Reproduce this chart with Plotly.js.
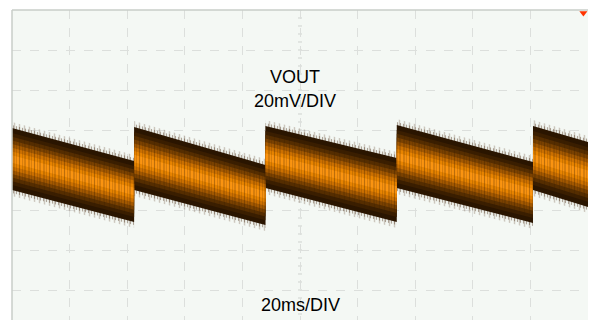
<!DOCTYPE html>
<html>
<head>
<meta charset="utf-8">
<script src="https://cdn.plot.ly/plotly-3.0.1.min.js"></script>
<style>html,body{margin:0;padding:0;background:#fff;}#chart{width:589px;height:320px;}</style>
</head>
<body>
<div id="chart"></div>
<script>
// Time (ms) at segment boundaries of the sawtooth ripple (repeated times = vertical jumps)
var timeMs   = [0, 42.4, 42.4, 88.0, 88.0, 133.6, 133.6, 180.9, 180.9, 200];
// Upper and lower edges of the noisy VOUT band (mV, AC coupled)
var topMv    = [21, 4.5, 21.5, 2.5, 22, 6, 22.5, 4, 22, 14];
var bottomMv = [-10, -26, -10, -27.5, -9, -26, -9, -26.5, -10, -18.5];
// Trigger marker
var trigTime = [198.4];
var trigLevel = [78.5];
var labelVout = "VOUT";
var labelVdiv = "20mV/DIV";
var labelTdiv = "20ms/DIV";

function band(fLo, pad, color, pattern) {
  var up = [], lo = [];
  for (var i = 0; i < timeMs.length; i++) {
    var span = topMv[i] - bottomMv[i];
    up.push(topMv[i] - fLo * span + pad);
    lo.push(bottomMv[i] + fLo * span - pad);
  }
  var xs = timeMs.concat(timeMs.slice().reverse());
  var ys = up.concat(lo.slice().reverse());
  var tr = {x: xs, y: ys, type: 'scatter', mode: 'lines', fill: 'toself',
          fillcolor: color, line: {width: 0}, hoverinfo: 'skip', showlegend: false};
  if (pattern) tr.fillpattern = pattern;
  return tr;
}

var traces = [
  band(0, 3.0, 'rgba(0,0,0,0)', {shape: '|', size: 5, solidity: 0.3, fgcolor: 'rgba(110,85,65,0.6)', bgcolor: 'rgba(0,0,0,0)', fillmode: 'overlay'}),
  band(0, 1.5, 'rgba(0,0,0,0)', {shape: '|', size: 3, solidity: 0.4, fgcolor: 'rgba(70,40,15,0.8)', bgcolor: 'rgba(0,0,0,0)', fillmode: 'overlay'}),
  band(0, 0, '#2a1500'),
  band(0.08, 0, '#3a1e00'),
  band(0.14, 0, '#552d00'),
  band(0.20, 0, '#7a4100'),
  band(0.26, 0, '#a35800'),
  band(0.32, 0, '#cc7000'),
  band(0.38, 0, '#e88400'),
  band(0.44, 0, '#fb9410'),
  band(0.20, 0, 'rgba(0,0,0,0)', {shape: '|', size: 3, solidity: 0.3, fgcolor: 'rgba(60,30,0,0.4)', bgcolor: 'rgba(0,0,0,0)', fillmode: 'overlay'}),
  band(0.10, 0, 'rgba(0,0,0,0)', {shape: '|', size: 5, solidity: 0.25, fgcolor: 'rgba(40,20,0,0.35)', bgcolor: 'rgba(0,0,0,0)', fillmode: 'overlay'}),
  {x: trigTime, y: trigLevel, type: 'scatter', mode: 'markers', cliponaxis: false,
   marker: {symbol: 'triangle-down', size: 7, color: '#ff3300'}, hoverinfo: 'skip', showlegend: false}
];

var shapes = [
  {type: 'line', xref: 'paper', yref: 'paper', x0: 0, x1: 1, y0: 1, y1: 1, line: {color: '#c9cec9', width: 1.5}},
  {type: 'line', xref: 'paper', yref: 'paper', x0: 0, x1: 0, y0: 0, y1: 1, line: {color: '#c9cec9', width: 1.5}}
];
// minor ticks on centre lines
for (var v = -72; v <= 80; v += 4) {
  shapes.push({type: 'line', layer: 'below', xref: 'x', yref: 'y', xsizemode: 'pixel', xanchor: 100,
    x0: -2, x1: 2, y0: v, y1: v, line: {color: '#cfd3cf', width: 1}});
}
for (var t = 0; t <= 200; t += 4) {
  shapes.push({type: 'line', layer: 'below', xref: 'x', yref: 'y', ysizemode: 'pixel', yanchor: 0,
    y0: -2, y1: 2, x0: t, x1: t, line: {color: '#cfd3cf', width: 1}});
}

var font = {family: 'Liberation Sans, Arial, sans-serif', size: 18, color: '#000'};
var layout = {
  width: 589, height: 320,
  margin: {l: 12, r: 1, t: 10, b: 0, pad: 0},
  paper_bgcolor: '#ffffff', plot_bgcolor: '#f4f8f4',
  showlegend: false,
  xaxis: {range: [0, 200], dtick: 20, tick0: 0, showticklabels: false, ticks: '', zeroline: false,
          showgrid: true, gridcolor: '#dcdfdc', griddash: 'dash', gridwidth: 1, fixedrange: true},
  yaxis: {range: [-75, 80], dtick: 20, tick0: 0, showticklabels: false, ticks: '', zeroline: false,
          showgrid: true, gridcolor: '#dcdfdc', griddash: 'dash', gridwidth: 1, fixedrange: true},
  shapes: shapes,
  annotations: [
    {x: 98.4, y: 46.5, xref: 'x', yref: 'y', text: labelVout, showarrow: false, font: font, xanchor: 'center', yanchor: 'middle'},
    {x: 98.4, y: 34.5, xref: 'x', yref: 'y', text: labelVdiv, showarrow: false, font: font, xanchor: 'center', yanchor: 'middle'},
    {x: 100, y: -67.5, xref: 'x', yref: 'y', text: labelTdiv, showarrow: false, font: font, xanchor: 'center', yanchor: 'middle'}
  ]
};
Plotly.newPlot('chart', traces, layout, {displayModeBar: false, staticPlot: true});
</script>
</body>
</html>
